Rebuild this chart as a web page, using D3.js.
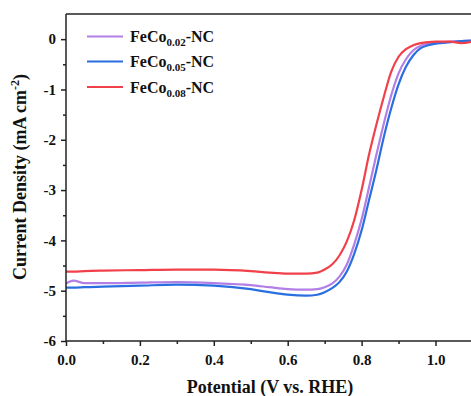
<!DOCTYPE html>
<html>
<head>
<meta charset="utf-8">
<script src="https://cdn.jsdelivr.net/npm/d3@7"></script>
<style>
  body { margin: 0; background: #fff; }
  text { font-family: "Liberation Serif", "Times New Roman", serif; font-weight: bold; fill: #111; }
</style>
</head>
<body>
<script>
// potential (V vs. RHE)
var potential = [0, 0.02, 0.05, 0.1, 0.2, 0.3, 0.4, 0.5, 0.55, 0.6, 0.65, 0.68, 0.7, 0.72, 0.74, 0.76, 0.78,
    0.8, 0.82, 0.84, 0.86, 0.88, 0.9, 0.92, 0.94, 0.96, 0.98, 1.0, 1.04, 1.07, 1.1];

var fe002 = [-4.86, -4.8, -4.85, -4.85, -4.84, -4.83, -4.85, -4.89, -4.93, -4.97, -4.98, -4.97, -4.93, -4.86, -4.72, -4.48, -4.08,
    -3.58, -2.95, -2.3, -1.68, -1.12, -0.68, -0.4, -0.22, -0.13, -0.09, -0.07, -0.05, -0.04, -0.03];
var fe005 = [-4.94, -4.94, -4.93, -4.92, -4.9, -4.88, -4.9, -4.97, -5.03, -5.08, -5.1, -5.08, -5.03, -4.95, -4.83, -4.62, -4.27,
    -3.8, -3.2, -2.6, -1.95, -1.38, -0.9, -0.55, -0.32, -0.18, -0.12, -0.09, -0.06, -0.04, -0.03];
var fe008 = [-4.62, -4.62, -4.61, -4.6, -4.59, -4.58, -4.58, -4.61, -4.64, -4.66, -4.66, -4.64, -4.58, -4.48, -4.3, -4.02, -3.6,
    -3.0, -2.3, -1.7, -1.15, -0.65, -0.35, -0.2, -0.12, -0.08, -0.06, -0.05, -0.05, -0.08, -0.05];

var seriesNames = ["0.02", "0.05", "0.08"];
var seriesColors = ["#b27fe6", "#2a6fdf", "#f2404a"];
var xTicks = [0, 0.2, 0.4, 0.6, 0.8, 1.0];
var yTicks = [0, -1, -2, -3, -4, -5, -6];

var W = 471, H = 396;
var plotLeft = 66, plotTop = 14, plotBottom = 341;

var svg = d3.select("body").append("svg").attr("width", W).attr("height", H);

var x = d3.scaleLinear().domain([0, 1.1]).range([plotLeft, plotLeft + 369.5 * 1.1]);
var y = d3.scaleLinear().domain([-6, 0.5]).range([plotBottom, plotTop]);

svg.append("clipPath").attr("id", "plot")
    .append("rect").attr("x", plotLeft).attr("y", plotTop).attr("width", W - plotLeft).attr("height", plotBottom - plotTop);

var line = d3.line()
    .x(function (d) { return x(d[0]); })
    .y(function (d) { return y(d[1]); })
    .curve(d3.curveMonotoneX);

var all = [fe002, fe005, fe008];
var g = svg.append("g").attr("clip-path", "url(#plot)");
all.forEach(function (vals, i) {
    g.append("path")
        .datum(potential.map(function (p, k) { return [p, vals[k]]; }))
        .attr("d", line)
        .attr("fill", "none")
        .attr("stroke", seriesColors[i])
        .attr("stroke-width", 2.2)
        .attr("stroke-linejoin", "round");
});

// axes
var xAxis = svg.append("g").attr("transform", "translate(0," + plotBottom + ")")
    .call(d3.axisBottom(x).tickValues(xTicks).tickFormat(d3.format(".1f")).tickSize(5).tickSizeOuter(0));
svg.append("g").attr("transform", "translate(0," + plotBottom + ")")
    .call(d3.axisBottom(x).tickValues([0.1, 0.3, 0.5, 0.7, 0.9]).tickFormat("").tickSize(3).tickSizeOuter(0))
    .select(".domain").remove();
var yAxis = svg.append("g").attr("transform", "translate(" + plotLeft + ",0)")
    .call(d3.axisLeft(y).tickValues(yTicks).tickFormat(function (d) { return String(d); })
        .tickSize(5).tickPadding(5).tickSizeOuter(0));
svg.append("g").attr("transform", "translate(" + plotLeft + ",0)")
    .call(d3.axisLeft(y).tickValues([-0.5, -1.5, -2.5, -3.5, -4.5, -5.5]).tickFormat("").tickSize(3).tickSizeOuter(0))
    .select(".domain").remove();

svg.selectAll(".domain, .tick line").attr("stroke", "#222").attr("stroke-width", 1.5);
xAxis.selectAll(".domain").attr("d", "M" + plotLeft + ",0H" + W);
yAxis.selectAll(".domain").attr("d", "M0," + plotTop + "V" + plotBottom);
xAxis.selectAll("text").attr("font-size", 15).attr("dy", "1.05em");
yAxis.selectAll("text").attr("font-size", 15);
svg.selectAll(".tick text").attr("fill", "#111").attr("font-family", "Liberation Serif, serif");

// top frame
svg.append("line").attr("x1", plotLeft).attr("x2", W).attr("y1", plotTop).attr("y2", plotTop)
    .attr("stroke", "#222").attr("stroke-width", 1.5);

// titles
svg.append("text").attr("x", 270).attr("y", 393).attr("text-anchor", "middle")
    .attr("font-size", 18).text("Potential (V vs. RHE)");
var yt = svg.append("text").attr("transform", "translate(26,177) rotate(-90)")
    .attr("text-anchor", "middle").attr("font-size", 18);
yt.append("tspan").text("Current Density (mA cm");
yt.append("tspan").attr("font-size", 12).attr("dy", -7).text("-2");
yt.append("tspan").attr("dy", 7).text(")");

// legend
var legendY = [36.5, 61.5, 87];
seriesNames.forEach(function (n, i) {
    svg.append("line").attr("x1", 87).attr("x2", 123).attr("y1", legendY[i]).attr("y2", legendY[i])
        .attr("stroke", seriesColors[i]).attr("stroke-width", 2.2);
    var t = svg.append("text").attr("x", 130).attr("y", legendY[i] + 5.5).attr("font-size", 16);
    t.append("tspan").text("FeCo");
    t.append("tspan").attr("font-size", 11).attr("dy", 4).text(n);
    t.append("tspan").attr("dy", -4).text("-NC");
});
</script>
</body>
</html>
